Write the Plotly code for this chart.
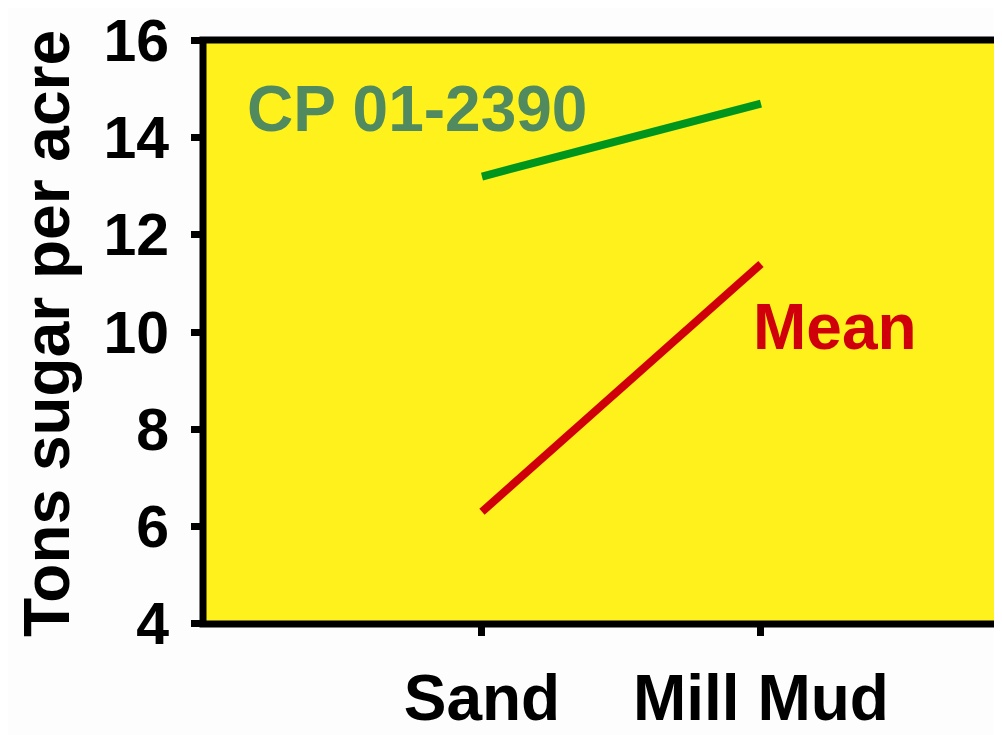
import plotly.graph_objects as go

categories = ["Sand", "Mill Mud"]
cp_values = [13.2, 14.7]
mean_values = [6.3, 11.4]
y_ticks = [4, 6, 8, 10, 12, 14, 16]

FONT = "Liberation Sans, Arial, sans-serif"
YELLOW = "#FFF21C"

fig = go.Figure()
fig.add_trace(go.Scatter(x=categories, y=cp_values, mode="lines",
                         line=dict(color="#00961E", width=8), name="CP 01-2390"))
fig.add_trace(go.Scatter(x=categories, y=mean_values, mode="lines",
                         line=dict(color="#D0000A", width=8), name="Mean"))

# the page adds an 8px body margin, so the figure is sized 8px smaller
fig.update_layout(
    width=994, height=727,
    margin=dict(l=195, r=0, t=32, b=111, pad=0, autoexpand=False),
    paper_bgcolor="#FDFDFD", plot_bgcolor=YELLOW,
    showlegend=False,
    font=dict(family=FONT, color="black"),
    xaxis=dict(type="category", range=[-1, 1.864], showgrid=False, zeroline=False,
               showline=False, ticks="outside", ticklen=11, tickwidth=7, tickcolor="black",
               tickfont=dict(family=FONT, size=64, color="black", weight="bold"),
               ticklabelstandoff=7, automargin=False, ticklabeloverflow="allow"),
    yaxis=dict(range=[3.99, 16.01], tickvals=y_ticks, showgrid=False, zeroline=False,
               showline=False, ticks="outside", ticklen=11, tickwidth=7, tickcolor="black",
               tickfont=dict(family=FONT, size=59, color="black", weight="bold"),
               ticklabelstandoff=10, automargin=False, ticklabeloverflow="allow"),
    shapes=[dict(type="rect", xref="paper", yref="paper", x0=0, x1=1.05, y0=0, y1=1,
                 line=dict(color="black", width=7), fillcolor="rgba(0,0,0,0)", layer="above")],
    annotations=[
        dict(text="<b>CP 01-2390</b>", xref="paper", yref="paper", x=0.2675, y=0.882,
             showarrow=False, xanchor="center", yanchor="middle",
             font=dict(family=FONT, size=64, color="#508A5E")),
        dict(text="<b>Mean</b>", xref="paper", yref="paper", x=0.791, y=0.509,
             showarrow=False, xanchor="center", yanchor="middle",
             font=dict(family=FONT, size=64, color="#D0000A")),
        dict(text="<b>Tons sugar per acre</b>", xref="paper", yref="paper", x=0, y=0.4966,
             xshift=-156, textangle=-90, showarrow=False, xanchor="center", yanchor="middle",
             font=dict(family=FONT, size=64, color="black")),
    ],
)

fig.write_html("out.html")
